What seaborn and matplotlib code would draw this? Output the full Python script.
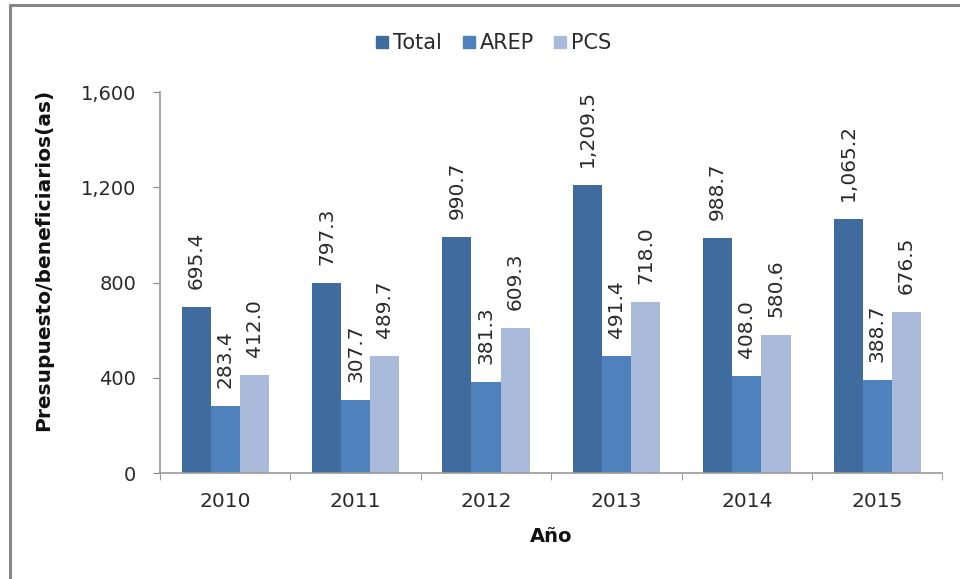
import pandas as pd
import matplotlib
matplotlib.use("Agg")
import matplotlib.pyplot as plt
from matplotlib.lines import Line2D
from matplotlib.ticker import FuncFormatter, FixedLocator
import seaborn as sns

years = ["2010", "2011", "2012", "2013", "2014", "2015"]
series = ["Total", "AREP", "PCS"]
total = [695.4, 797.3, 990.7, 1209.5, 988.7, 1065.2]
arep = [283.4, 307.7, 381.3, 491.4, 408.0, 388.7]
pcs = [412.0, 489.7, 609.3, 718.0, 580.6, 676.5]
colors = ["#3F6B9E", "#4F81BD", "#A9BADA"]

df = pd.DataFrame({"Año": years, "Total": total, "AREP": arep, "PCS": pcs})
df = df.melt(id_vars="Año", var_name="serie", value_name="valor")

sns.set_style("white")
plt.rcParams["font.family"] = ["DejaVu Sans"]
txt = "#2a2a2a"

fig = plt.figure(figsize=(9.6, 5.79), dpi=100)
ax = fig.add_axes([0.1667, 0.183, 0.815, 0.658])

sns.barplot(data=df, x="Año", y="valor", hue="serie", hue_order=series,
            palette=colors, width=0.67, saturation=1, linewidth=0, ax=ax, legend=False)

for cont in ax.containers:
    ax.bar_label(cont, labels=[f"{v:,.1f}" for v in cont.datavalues],
                 rotation=90, padding=13, fontsize=14.5, color=txt)

ax.set_ylim(0, 1600)
ax.set_xlim(-0.5, 5.5)
ax.set_yticks([0, 400, 800, 1200, 1600])
ax.yaxis.set_major_formatter(FuncFormatter(lambda v, p: f"{v:,.0f}"))
ax.tick_params(axis="y", left=True, length=5, color="#888888", labelsize=14,
               labelcolor=txt, pad=12)
ax.tick_params(axis="x", which="major", bottom=False, labelsize=14.5,
               labelcolor=txt, pad=10)
ax.xaxis.set_minor_locator(FixedLocator([i - 0.5 for i in range(7)]))
ax.tick_params(axis="x", which="minor", bottom=True, length=5, color="#888888")

for s in ["top", "right"]:
    ax.spines[s].set_visible(False)
for s in ["left", "bottom"]:
    ax.spines[s].set_color("#999999")
    ax.spines[s].set_linewidth(1.2)

ax.set_xlabel("Año", fontsize=14, fontweight="bold", labelpad=12, color="#111111")
ax.set_ylabel("Presupuesto/beneficiarios(as)", fontsize=14.5, fontweight="bold",
              color="#111111")
ax.yaxis.set_label_coords(-0.137, 0.56)

handles = [Line2D([0], [0], marker="s", linestyle="", markersize=8,
                  markerfacecolor=c, markeredgecolor=c) for c in colors]
fig.legend(handles, series, loc="center", bbox_to_anchor=(0.5146, 0.926), ncol=3,
           frameon=False, fontsize=15, handlelength=0.55, handletextpad=0.25,
           columnspacing=1.0, labelcolor=txt)

# gray frame on top and left edge of the picture
fig.add_artist(Line2D([0.0105, 1.0], [0.992, 0.992], color="#888888", lw=2.2,
                      transform=fig.transFigure))
fig.add_artist(Line2D([0.0105, 0.0105], [0.0, 0.992], color="#888888", lw=2.2,
                      transform=fig.transFigure))

fig.savefig("out.png", dpi=100)
